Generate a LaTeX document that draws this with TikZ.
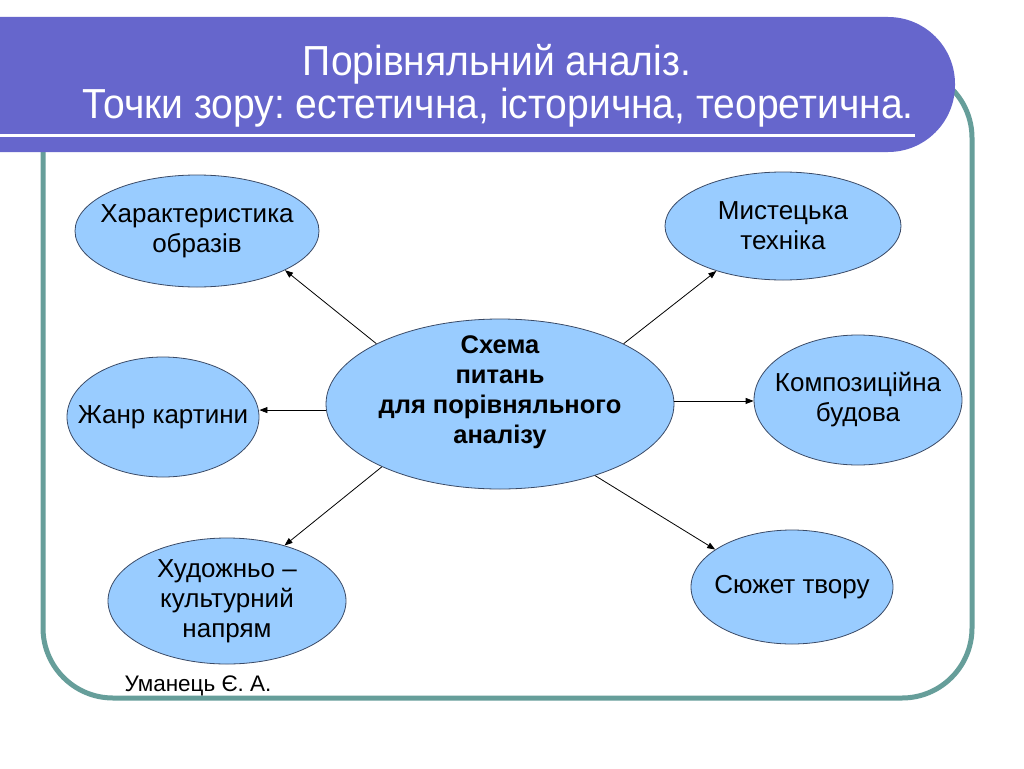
\documentclass[tikz,border=0pt]{standalone}
\usepackage{fontspec}
\setmainfont{Liberation Sans}
\newfontfamily\titlefont[FakeStretch=0.93]{Liberation Sans}
\usetikzlibrary{shapes.geometric,arrows.meta}
\definecolor{bannercol}{HTML}{6666CC}
\definecolor{framecol}{HTML}{669E9A}
\definecolor{bubblecol}{HTML}{99CCFF}
\definecolor{bubbleline}{HTML}{3A4A66}
\frenchspacing
\begin{document}
\begin{tikzpicture}[x=1pt,y=-1pt,
  bubble/.style={ellipse, draw=bubbleline, line width=0.8pt, fill=bubblecol, inner sep=0pt},
  bubbletext/.style={align=center, inner sep=0pt, font=\fontsize{26}{30}\selectfont},
  link/.style={-{Triangle[length=8pt,width=6pt]}, line width=0.8pt, black},
  titletext/.style={text=white, font=\titlefont\fontsize{42}{44}\selectfont, anchor=base, inner sep=0pt}]
\useasboundingbox (0,0) rectangle (1024,768);
\fill[white] (0,0) rectangle (1024,768);
% frame
\draw[framecol, line width=5pt, rounded corners=70pt] (43,68) rectangle (972,698);
% banner
\fill[bannercol, rounded corners=67pt] (-100,17) rectangle (955,152);
\draw[white, line width=3pt] (0,135) -- (915,135);
\node[titletext] (t1) at (497,75) {Порівняльний аналіз.};
\node[titletext] (t2) at (498,118) {Точки зору: естетична, історична, теоретична.};
% bubbles
\node[bubble, minimum width=348pt, minimum height=170pt] (c) at (500,404) {};
\node[align=center, inner sep=0pt, font=\bfseries\fontsize{25.5}{30}\selectfont] (ct) at (500,392) {Схема\\питань\\для порівняльного\\аналізу};
\node[bubble, minimum width=244pt, minimum height=112pt,
  label={[bubbletext]center:{Характеристика\\образів}}] (a) at (197,231) {};
\node[bubble, minimum width=192pt, minimum height=120pt,
  label={[bubbletext]center:{Жанр картини}}] (b) at (163,417) {};
\node[bubble, minimum width=238pt, minimum height=126pt,
  label={[bubbletext]center:{Художньо –\\культурний\\напрям}}] (d) at (227,601) {};
\node[bubble, minimum width=236pt, minimum height=108pt,
  label={[bubbletext]center:{Мистецька\\техніка}}] (e) at (783,226) {};
\node[bubble, minimum width=208pt, minimum height=130pt,
  label={[bubbletext]center:{Композиційна\\будова}}] (f) at (858,400) {};
\node[bubble, minimum width=202pt, minimum height=114pt,
  label={[bubbletext]center:{Сюжет твору}}] (g) at (792,587) {};
% links
\draw[link] (c.154) -- (a.336);
\draw[link] (c.182) -- (c.182 -| b.east);
\draw[link] (c.208) -- (d.44);
\draw[link] (c.26) -- (e.214);
\draw[link] (c.1) -- (c.1 -| f.west);
\draw[link] (c.323) -- (g.154);
% author
\node[font=\fontsize{22.5}{24}\selectfont, anchor=base, inner sep=0pt] (author) at (198,691) {Уманець Є. А.};
\end{tikzpicture}
\end{document}
